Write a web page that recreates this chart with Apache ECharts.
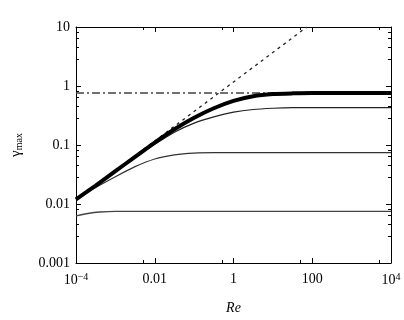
<!DOCTYPE html>
<html>
<head>
<meta charset="utf-8">
<script src="https://cdn.jsdelivr.net/npm/echarts@6/dist/echarts.min.js"></script>
<style>
  html, body { margin: 0; padding: 0; background: #fff; }
  #chart { width: 404px; height: 320px; }
</style>
</head>
<body>
<div id="chart"></div>
<script>
const thickRe = [1e-4, 3.16e-4, 1e-3, 3.16e-3, 0.01, 0.0316, 0.1, 0.316, 1, 3.16, 10, 31.6, 100, 1e4];
const thickGamma = [0.012, 0.0205, 0.036, 0.063, 0.11, 0.185, 0.29, 0.42, 0.56, 0.67, 0.73, 0.75, 0.76, 0.76];

const midRe = [1e-4, 3.16e-4, 1e-3, 3.16e-3, 0.01, 0.0316, 0.1, 0.316, 1, 3.16, 10, 31.6, 1e4];
const midGamma = [0.012, 0.0205, 0.036, 0.062, 0.103, 0.165, 0.235, 0.3, 0.36, 0.4, 0.42, 0.43, 0.43];

const lowRe = [1e-4, 3.16e-4, 1e-3, 3.16e-3, 0.01, 0.0316, 0.1, 0.316, 1e4];
const lowGamma = [0.012, 0.019, 0.029, 0.043, 0.058, 0.068, 0.073, 0.074, 0.074];

const bottomRe = [1e-4, 2e-4, 4e-4, 1e-3, 1e4];
const bottomGamma = [0.0063, 0.0069, 0.0073, 0.0075, 0.0075];

const asymRe = [1e-4, 73];
const asymGamma = [0.0117, 10];

const limitRe = [1e-4, 10];
const limitGamma = [0.76, 0.76];

const xTickLabels = { "-4": "{b|10}{sup|−4}", "-2": "{b|0.01}", "0": "{b|1}", "2": "{b|100}", "4": "{b|10}{sup|4}" };
const yTickLabels = { "-3": "0.001", "-2": "0.01", "-1": "0.1", "0": "1", "1": "10" };

const zip = (xs, ys) => xs.map((x, i) => [x, ys[i]]);
const serif = "'Liberation Serif', 'DejaVu Serif', serif";

function xLabel(v) {
  const k = String(Math.round(Math.log10(v)));
  return xTickLabels[k] || "";
}
function yLabel(v) {
  const k = String(Math.round(Math.log10(v)));
  return yTickLabels[k] || "";
}

const axisBase = {
  type: "log",
  axisLine: { lineStyle: { color: "#000", width: 1 } },
  axisTick: { inside: true, length: 5, lineStyle: { color: "#000" } },
  minorTick: { show: true, splitNumber: 2, length: 3, lineStyle: { color: "#000" } },
  splitLine: { show: false },
};

const curve = { type: "line", smooth: 0.2, showSymbol: false };

const chart = echarts.init(document.getElementById("chart"));
chart.setOption({
  animation: false,
  backgroundColor: "#fff",
  grid: { left: 76, right: 13, top: 27, bottom: 57 },
  xAxis: [
    {
      ...axisBase, logBase: 100, min: 1e-4, max: 1e4, position: "bottom",
      name: "Re", nameLocation: "middle", nameGap: 38,
      nameTextStyle: { fontFamily: serif, fontStyle: "italic", fontSize: 14, color: "#000" },
      axisLabel: {
        margin: 9, formatter: xLabel,
        rich: {
          b: { fontFamily: serif, fontSize: 14, color: "#000" },
          sup: { fontFamily: serif, fontSize: 10, color: "#000", verticalAlign: "top", padding: [0, 0, 6, 0] },
        },
      },
    },
    {
      ...axisBase, logBase: 100, min: 1e-4, max: 1e4, position: "top",
      axisLabel: { show: false },
    },
  ],
  yAxis: [
    {
      ...axisBase, logBase: 10, min: 0.001, max: 10, position: "left",
      minorTick: { show: true, splitNumber: 5, length: 3, lineStyle: { color: "#000" } },
      name: "{g|γ}{s|max}", nameLocation: "middle", nameGap: 52, nameRotate: 90,
      nameTextStyle: {
        rich: {
          g: { fontFamily: serif, fontSize: 15, color: "#000" },
          s: { fontFamily: serif, fontSize: 10, color: "#000", verticalAlign: "bottom", padding: [6, 0, 0, 0] },
        },
      },
      axisLabel: { margin: 6, formatter: yLabel, fontFamily: serif, fontSize: 14, color: "#000" },
    },
    {
      ...axisBase, logBase: 10, min: 0.001, max: 10, position: "right",
      minorTick: { show: true, splitNumber: 5, length: 3, lineStyle: { color: "#000" } },
      axisLabel: { show: false },
    },
  ],
  series: [
    {
      type: "line", data: zip(limitRe, limitGamma), showSymbol: false,
      lineStyle: { color: "#444", width: 1.5, type: [8, 3, 2, 3] },
    },
    {
      type: "line", data: zip(asymRe, asymGamma), showSymbol: false,
      lineStyle: { color: "#222", width: 1.3, type: [3, 4] },
    },
    { ...curve, data: zip(bottomRe, bottomGamma), lineStyle: { color: "#444", width: 1.4 } },
    { ...curve, data: zip(lowRe, lowGamma), lineStyle: { color: "#333", width: 1.2 } },
    { ...curve, data: zip(midRe, midGamma), lineStyle: { color: "#222", width: 1.2 } },
    { ...curve, data: zip(thickRe, thickGamma), lineStyle: { color: "#000", width: 4 } },
  ],
});
</script>
</body>
</html>
